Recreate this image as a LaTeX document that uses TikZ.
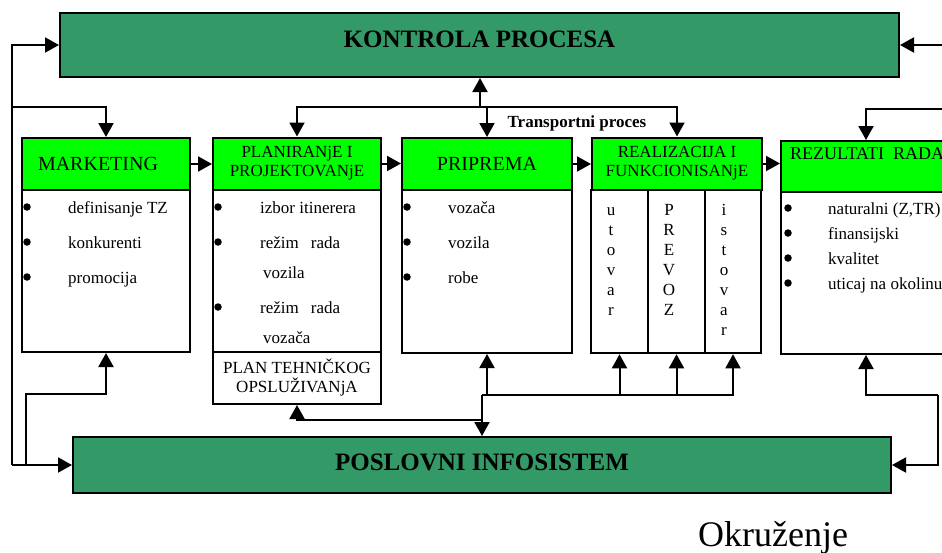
\documentclass[tikz,border=0pt]{standalone}
\usepackage{fontspec}
\setmainfont{Liberation Serif}
\usetikzlibrary{arrows.meta}

\definecolor{seagreen}{RGB}{51,153,102}
\definecolor{brightgreen}{RGB}{0,255,0}

\begin{document}
\begin{tikzpicture}[
    x=1pt,y=-1pt,
    every node/.style={font=\fontsize{17}{19}\selectfont},
    frame/.style={draw=black, line width=2pt},
    main/.style={frame, fill=seagreen},
    head/.style={frame, fill=brightgreen, minimum width=170pt, minimum height=52pt, align=center, inner sep=0pt},
    body/.style={frame, fill=white, minimum width=170pt, minimum height=162pt, inner sep=0pt},
    big/.style={font=\fontsize{25}{30}\selectfont\bfseries, inner sep=0pt},
    dot/.style={circle, fill=black, inner sep=0pt, minimum size=7.5pt},
    item/.style={anchor=base west, inner sep=0pt},
    letter/.style={anchor=base, inner sep=0pt},
    link/.style={line width=2pt, -{Triangle[length=14pt,width=15pt]}}
]
    \useasboundingbox (0,0) rectangle (942,552);
    \clip (0,0) rectangle (942,552);

    % control and business info system
    \node[main, minimum width=839pt, minimum height=64pt] (kontrola) at (479.5,45) {};
    \node[big, anchor=base] (kontrolat) at (479.5,47) {KONTROLA PROCESA};
    \node[main, minimum width=818pt, minimum height=56pt] (poslovni) at (482,465) {};
    \node[big, anchor=base] (poslovnit) at (482,470) {POSLOVNI INFOSISTEM};

    % headers
    \node[head, minimum width=168pt, text width=136pt, inner xsep=16pt, align=left, font=\fontsize{20}{22}\selectfont] (mkt) at (106,164) {MARKETING};
    \node[head, minimum width=168pt] (plan) at (297,163.5) {PLANIRANjE I\\PROJEKTOVANjE};
    \node[head, font=\fontsize{20}{22}\selectfont] (prip) at (487,164) {PRIPREMA};
    \node[head] (real) at (677,163.5) {REALIZACIJA I\\FUNKCIONISANjE};
    \node[head, minimum height=51pt] (rez) at (866,166.5) {};
    \node[item, font=\fontsize{18}{20}\selectfont] (rezt) at (790,159) {REZULTATI\ \ RADA};

    % bodies
    \node[body, minimum width=168pt] (mktb) at (106,271) {};
    \node[body, minimum width=168pt] (planb) at (297,271) {};
    \node[frame, fill=white, minimum width=168pt, minimum height=52pt, align=center, inner sep=0pt] (plant) at (297,378) {PLAN TEHNIČKOG\\OPSLUŽIVANjA};
    \node[body, minimum height=163pt] (pripb) at (487,271.5) {};
    \node[body, line width=2.6pt, minimum width=57pt, minimum height=163pt] (real1) at (619.5,271.5) {};
    \node[body, line width=2.6pt, minimum width=57pt, minimum height=163pt] (real2) at (676.5,271.5) {};
    \node[body, line width=2.6pt, minimum width=56pt, minimum height=163pt] (real3) at (733,271.5) {};
    \node[body] (rezb) at (866,273) {};

    % lists
    \foreach \t [count=\i] in {definisanje TZ, konkurenti, promocija} {
        \node[dot] (mkd\i) at (27,207+35*\i-35) {};
        \node[item] (mki\i) at (68,213+35*\i-35) {\t};
    }
    \node[dot] (pld1) at (218,207) {};
    \node[item] (pli1) at (260,213) {izbor itinerera};
    \node[dot] (pld2) at (218,242) {};
    \node[item] (pli2) at (260,248) {režim\hspace{12pt}rada};
    \node[item] (pli3) at (263,278) {vozila};
    \node[dot] (pld4) at (218,307) {};
    \node[item] (pli4) at (260,313) {režim\hspace{12pt}rada};
    \node[item] (pli5) at (263,343) {vozača};
    \foreach \t [count=\i] in {vozača, vozila, robe} {
        \node[dot] (prd\i) at (407,207+35*\i-35) {};
        \node[item] (pri\i) at (448,213+35*\i-35) {\t};
    }
    \foreach \c [count=\i] in {u,t,o,v,a,r}
        \node[letter] (ut\i) at (611,215+20*\i-20) {\c};
    \foreach \c [count=\i] in {P,R,E,V,O,Z}
        \node[letter] (pr\i) at (669,215+20*\i-20) {\c};
    \foreach \c [count=\i] in {i,s,t,o,v,a,r}
        \node[letter] (is\i) at (724,215+20*\i-20) {\c};
    \foreach \t [count=\i] in {{naturalni (Z,TR)}, finansijski, kvalitet, uticaj na okolinu} {
        \node[dot] (rzd\i) at (788,208+25*\i-25) {};
        \node[item] (rzi\i) at (828,214+25*\i-25) {\t};
    }

    \node[anchor=base, font=\fontsize{17}{19}\selectfont\bfseries] (transp) at (577,127) {Transportni proces};
    \node[item, font=\fontsize{36}{40}\selectfont] (okr) at (698,546) {Okruženje};

    % connectors
    \coordinate (lb) at (12,465);
    \coordinate (lm) at (12,107);
    \coordinate (mb) at (26,394);
    \coordinate (mbb) at (26,465);
    \coordinate (tj) at (480,107);
    \coordinate (rt) at (950,109);
    \coordinate (rk) at (950,45);
    \coordinate (rc) at (938,395);
    \coordinate (bj) at (482,395);
    \coordinate (bp) at (482,420);

    \draw[link] (lb) |- (kontrola.west);
    \draw[link] (lb) -- (poslovni.west);
    \draw[link] (lm) -| (mkt.north);
    \draw[link] (mbb) -- (mb) -| (mktb.south);
    \draw[link] (tj) -- (tj |- kontrola.south);
    \draw[link] (tj) -| (plan.north);
    \draw[link] (tj) -| (prip.north);
    \draw[link] (tj) -| (real.north);
    \draw[link] (rt) -| (rez.north);
    \draw[link] (rk) -- (kontrola.east);

    \draw[link] (mkt.east) -- (plan.west |- mkt.east);
    \draw[link] (plan.east) -- (prip.west |- plan.east);
    \draw[link] (prip.east) -- (real.west |- prip.east);
    \draw[link] (real.east) -- (rez.west |- real.east);

    \draw[link] (bj) -- (bj |- poslovni.north);
    \draw[link] (bj) -| (pripb.south);
    \draw[link] (bj) -| (real1.south);
    \draw[link] (bj) -| (real2.south);
    \draw[link] (bj) -| (real3.south);
    \draw[link] (bp) -| (plant.south);
    \draw[link] (rc) -| (rezb.south);
    \draw[link] (rc) |- (poslovni.east);
\end{tikzpicture}
\end{document}
